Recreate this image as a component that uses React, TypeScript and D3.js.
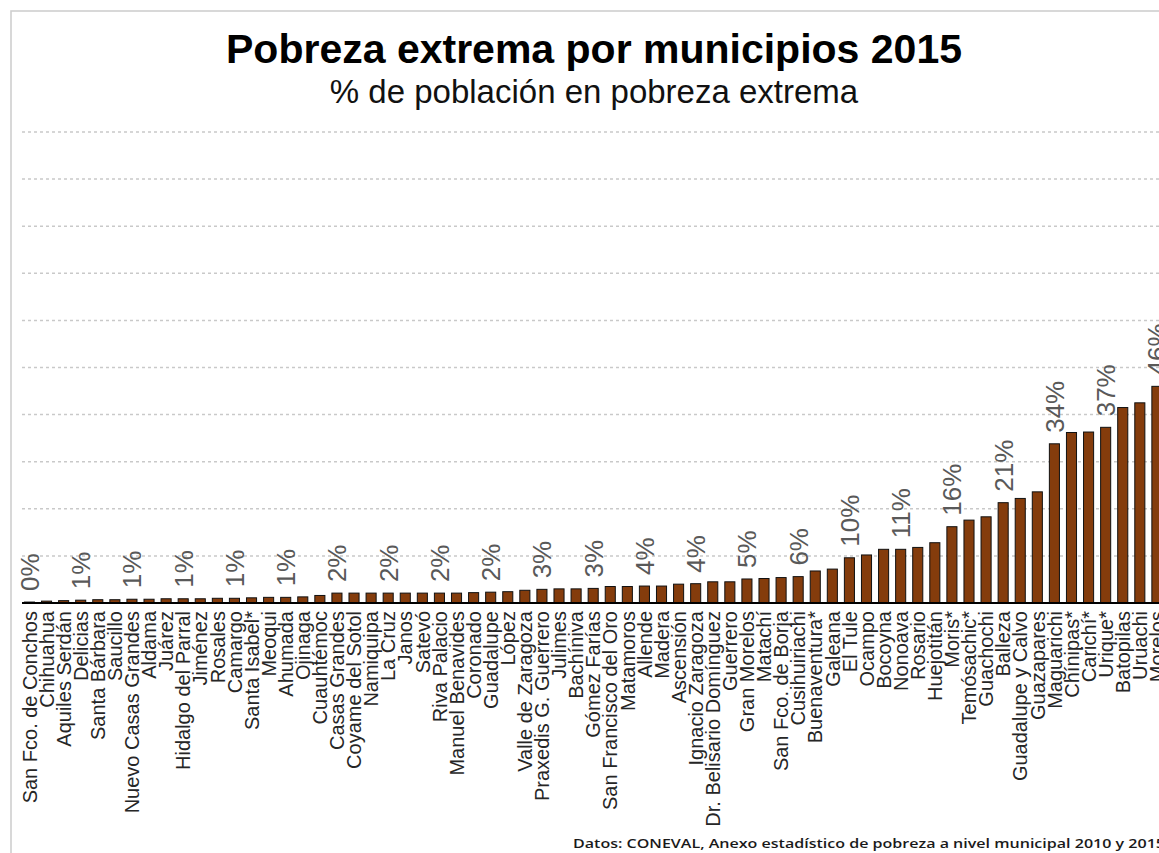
import React from 'react'
import * as d3 from 'd3'

// municipios de Chihuahua, ordenados de menor a mayor pobreza extrema
const municipios = [
  'San Fco. de Conchos', 'Chihuahua', 'Aquiles Serdán', 'Delicias', 'Santa Bárbara',
  'Saucillo', 'Nuevo Casas Grandes', 'Aldama', 'Juárez', 'Hidalgo del Parral',
  'Jiménez', 'Rosales', 'Camargo', 'Santa Isabel*', 'Meoqui',
  'Ahumada', 'Ojinaga', 'Cuauhtémoc', 'Casas Grandes', 'Coyame del Sotol',
  'Namiquipa', 'La Cruz', 'Janos', 'Satevó', 'Riva Palacio',
  'Manuel Benavides', 'Coronado', 'Guadalupe', 'López', 'Valle de Zaragoza',
  'Praxedis G. Guerrero', 'Julimes', 'Bachíniva', 'Gómez Farías', 'San Francisco del Oro',
  'Matamoros', 'Allende', 'Madera', 'Ascensión', 'Ignacio Zaragoza',
  'Dr. Belisario Domínguez', 'Guerrero', 'Gran Morelos', 'Matachí', 'San Fco. de Borja',
  'Cusihuiriachi', 'Buenaventura*', 'Galeana', 'El Tule', 'Ocampo',
  'Bocoyna', 'Nonoava', 'Rosario', 'Huejotitán', 'Moris*',
  'Temósachic*', 'Guachochi', 'Balleza', 'Guadalupe y Calvo', 'Guazapares',
  'Maguarichi', 'Chínipas*', 'Carichí*', 'Urique*', 'Batopilas',
  'Uruachi', 'Morelos',
]

// % de población en pobreza extrema, 2015
const pobrezaExtrema = [
  0.2, 0.4, 0.5, 0.6, 0.7,
  0.7, 0.8, 0.8, 0.9, 0.9,
  0.9, 1.0, 1.0, 1.1, 1.2,
  1.2, 1.3, 1.6, 2.1, 2.1,
  2.1, 2.1, 2.1, 2.1, 2.1,
  2.1, 2.2, 2.3, 2.4, 2.7,
  2.9, 3.0, 3.0, 3.1, 3.5,
  3.5, 3.6, 3.6, 4.0, 4.1,
  4.5, 4.5, 5.1, 5.2, 5.4,
  5.6, 6.8, 7.2, 9.6, 10.2,
  11.4, 11.4, 11.8, 12.8, 16.2,
  17.6, 18.3, 21.3, 22.2, 23.6,
  33.8, 36.2, 36.3, 37.3, 41.5,
  42.5, 46.0,
]

const gridValues = [10, 20, 30, 40, 50, 60, 70, 80, 90, 100]

const W = 1159
const H = 853

export default function App() {
  const x = d3.scaleBand<string>()
    .domain(municipios)
    .range([21, 21 + municipios.length * 17.08])
    .paddingInner(0.41)
    .paddingOuter(0.2)

  const y = d3.scaleLinear().domain([0, 100]).range([603, 132])

  const fmt = (v: number) => `${Math.round(v)}%`

  return (
    <svg width={W} height={H} style={{ position: 'absolute', left: 0, top: 0, background: '#fff' }}
      fontFamily="'Liberation Sans', Arial, sans-serif">
      <rect x={11} y={11} width={1300} height={1000} fill="#fff" stroke="#cfcfcf" strokeWidth={1.6} />

      <text x={594} y={63} textAnchor="middle" fontSize={41} fontWeight="bold" fill="#000">
        Pobreza extrema por municipios 2015
      </text>
      <text x={594} y={103} textAnchor="middle" fontSize={33} fill="#111">
        % de población en pobreza extrema
      </text>

      {/* líneas de cuadrícula */}
      {gridValues.map(g => (
        <line key={g} x1={22} x2={W} y1={y(g)} y2={y(g)}
          stroke="#c9c9c9" strokeWidth={1.5} strokeDasharray="3 3" />
      ))}

      {/* barras */}
      {municipios.map((m, i) => (
        <rect key={m} x={x(m)} y={y(pobrezaExtrema[i])} width={x.bandwidth()}
          height={y(0) - y(pobrezaExtrema[i])}
          fill="#843c0c" stroke="#111" strokeWidth={1} />
      ))}

      <line x1={22} x2={W} y1={y(0)} y2={y(0)} stroke="#000" strokeWidth={2} />

      {/* etiquetas de valor, cada tercera barra */}
      {municipios.map((m, i) => i % 3 !== 0 ? null : (
        <text key={m} transform={`translate(${x(m)! + x.bandwidth() / 2},${y(pobrezaExtrema[i]) - 11}) rotate(-90)`}
          dy="0.36em" fontSize={26} fill="#595959">
          {fmt(pobrezaExtrema[i])}
        </text>
      ))}

      {/* nombres de municipio */}
      {municipios.map(m => (
        <text key={m} transform={`translate(${x(m)! + x.bandwidth() / 2},611) rotate(-90)`}
          dy="0.36em" textAnchor="end" fontSize={20} fill="#262626">
          {m}
        </text>
      ))}

      <text x={573} y={848} fontSize={13} fontWeight={600} fill="#1a1a1a"
        fontFamily="'Open Sans', sans-serif" textLength={592} lengthAdjust="spacingAndGlyphs">
        Datos: CONEVAL, Anexo estadístico de pobreza a nivel municipal 2010 y 2015
      </text>
    </svg>
  )
}
